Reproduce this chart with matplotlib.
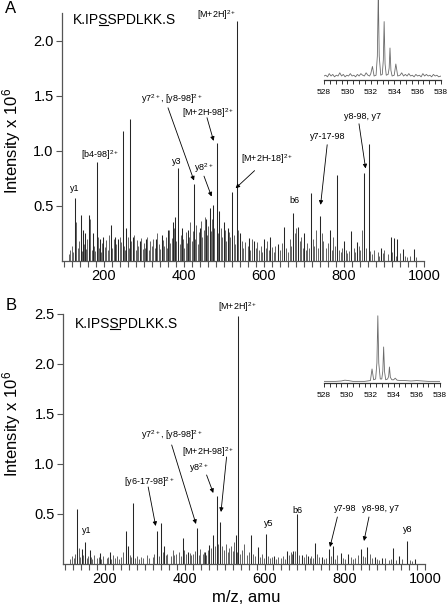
import matplotlib
matplotlib.use('Agg')
import matplotlib.pyplot as plt
import numpy as np
from matplotlib.lines import Line2D
from matplotlib.transforms import IdentityTransform
from matplotlib.ticker import MultipleLocator
from matplotlib.font_manager import FontProperties

plt.rcParams['font.family'] = ['Liberation Sans', 'DejaVu Sans']
plt.rcParams['mathtext.fontset'] = 'custom'
plt.rcParams['mathtext.rm'] = 'Liberation Sans'
plt.rcParams['mathtext.it'] = 'Liberation Sans:italic'
plt.rcParams['mathtext.bf'] = 'Liberation Sans:bold'

SEQ = 'K.IPSSPDLKK.S'

# ---- panel A, main peaks (m/z, intensity x 1e6)
a_mz = [127.5, 141.7, 147, 152, 163, 172, 181.7, 190, 198, 217.5, 228, 236, 247, 256, 265,
        272, 290, 305, 330, 345, 360, 372, 378, 385.8, 395, 410, 425, 440, 455, 465,
        473, 481.7, 488, 500, 510, 520.7, 532.7, 540, 562, 575, 600, 616, 635, 650,
        672.5, 685, 700, 718, 739, 765, 783, 800, 818, 833, 850, 862.5, 892, 917, 925,
        933, 948, 975]
a_int = [0.57, 0.42, 0.28, 0.25, 0.42, 0.25, 0.90, 0.20, 0.22, 0.33, 0.22, 0.20, 1.18, 0.30, 1.29,
         0.22, 0.18, 0.20, 0.20, 0.24, 0.28, 0.35, 0.40, 0.845, 0.30, 0.28, 0.70, 0.30, 0.38, 0.48,
         0.51, 1.07, 0.45, 0.35, 0.30, 0.63, 2.18, 0.25, 0.21, 0.18, 0.20, 0.22, 0.15, 0.31,
         0.44, 0.31, 0.25, 0.62, 0.41, 0.28, 0.78, 0.18, 0.27, 0.17, 0.80, 1.06, 0.12, 0.22, 0.21,
         0.20, 0.11, 0.11]

# ---- panel A, small peaks / noise floor
a_noise_mz = [112, 116, 119, 123, 131, 134, 137, 144, 149, 155,
              158, 166, 169, 175, 178, 185, 188, 193, 196, 202,
              205, 209, 213, 220, 224, 231, 234, 239, 243, 251,
              253, 259, 262, 268, 275, 279, 282, 286, 293, 297,
              300, 303, 308, 312, 316, 319, 323, 327, 333, 337,
              341, 348, 351, 355, 358, 363, 366, 369, 375, 381,
              389, 392, 398, 401, 404, 407, 413, 416, 419, 422,
              428, 431, 434, 437, 443, 446, 449, 452, 458, 461,
              468, 470, 476, 484, 493, 496, 503, 506, 513, 516,
              524, 527, 536, 544, 548, 552, 559, 566, 570, 579,
              583, 588, 592, 596, 604, 608, 612, 620, 624, 628,
              639, 644, 655, 659, 664, 668, 677, 681, 689, 693,
              697, 704, 708, 712, 722, 726, 731, 735, 744, 748,
              756, 760, 769, 773, 778, 788, 792, 796, 804, 808,
              812, 824, 828, 837, 841, 845, 856, 866, 870, 875,
              884, 888, 897, 901, 910, 920, 929, 940, 952, 958,
              964, 980]
a_noise_int = [0.06, 0.10, 0.14, 0.08, 0.35, 0.12, 0.18, 0.09, 0.15, 0.11,
               0.20, 0.38, 0.10, 0.14, 0.09, 0.22, 0.12, 0.08, 0.16, 0.13,
               0.19, 0.10, 0.24, 0.12, 0.20, 0.15, 0.09, 0.22, 0.17, 0.14,
               0.10, 0.22, 0.12, 0.18, 0.24, 0.10, 0.19, 0.14, 0.21, 0.11,
               0.16, 0.12, 0.22, 0.10, 0.18, 0.14, 0.20, 0.12, 0.25, 0.15,
               0.11, 0.19, 0.14, 0.22, 0.12, 0.28, 0.16, 0.21, 0.30, 0.18,
               0.15, 0.24, 0.20, 0.12, 0.26, 0.16, 0.22, 0.35, 0.18, 0.27,
               0.20, 0.33, 0.15, 0.26, 0.36, 0.22, 0.28, 0.40, 0.24, 0.32,
               0.27, 0.38, 0.30, 0.25, 0.30, 0.22, 0.28, 0.18, 0.26, 0.22,
               0.24, 0.15, 0.28, 0.18, 0.12, 0.17, 0.14, 0.10, 0.20, 0.12,
               0.17, 0.10, 0.14, 0.08, 0.12, 0.18, 0.10, 0.13, 0.08, 0.14,
               0.10, 0.16, 0.12, 0.08, 0.20, 0.14, 0.25, 0.30, 0.18, 0.22,
               0.12, 0.10, 0.16, 0.12, 0.20, 0.14, 0.28, 0.12, 0.25, 0.18,
               0.12, 0.16, 0.10, 0.22, 0.14, 0.10, 0.08, 0.12, 0.10, 0.07,
               0.09, 0.12, 0.08, 0.14, 0.10, 0.28, 0.12, 0.09, 0.06, 0.10,
               0.08, 0.05, 0.07, 0.10, 0.06, 0.08, 0.05, 0.07, 0.05, 0.04,
               0.05, 0.04]

# ---- panel B, main peaks
b_mz = [130.8, 141.7, 150.8, 162.5, 187.5, 212.5, 252.5, 258, 270.8, 329, 340, 348,
        394, 408, 429, 450, 461, 471, 479, 487.5, 526.7, 532.7, 565.8, 582.5, 603,
        622.5, 654, 671, 679, 693, 707.5, 724, 743, 760, 770.8, 789, 807.5, 839, 856,
        874, 893, 921, 935, 954, 974]
b_int = [0.55, 0.15, 0.22, 0.14, 0.11, 0.12, 0.33, 0.18, 0.61, 0.33, 0.41, 0.18,
         0.26, 0.12, 0.36, 0.12, 0.19, 0.29, 0.68, 0.42, 0.29, 2.48, 0.29, 0.17, 0.30,
         0.08, 0.13, 0.13, 0.50, 0.09, 0.08, 0.21, 0.07, 0.15, 0.18, 0.11, 0.10, 0.15, 0.17,
         0.07, 0.06, 0.16, 0.08, 0.23, 0.05]

b_noise_mz = [112, 118, 122, 126, 135, 138, 145, 154, 157, 165,
              168, 172, 179, 186, 191, 195, 204, 208, 216, 220,
              225, 230, 236, 241, 246, 262, 266, 276, 281, 286,
              291, 296, 305, 309, 319, 323, 334, 344, 353, 356,
              365, 369, 373, 378, 385, 389, 398, 402, 412, 416,
              420, 424, 434, 437, 444, 447, 453, 457, 465, 475,
              483, 492, 497, 502, 507, 511, 516, 520, 523, 529,
              538, 542, 548, 555, 560, 570, 575, 587, 593, 597,
              607, 613, 617, 628, 633, 640, 646, 650, 660, 664,
              668, 675, 686, 698, 702, 712, 716, 720, 730, 734,
              748, 752, 765, 776, 780, 795, 800, 815, 820, 826,
              833, 845, 850, 862, 868, 880, 886, 900, 910, 915,
              928, 942, 962, 968]
b_noise_int = [0.05, 0.08, 0.06, 0.10, 0.16, 0.07, 0.09, 0.06, 0.08, 0.07,
               0.05, 0.09, 0.06, 0.07, 0.05, 0.08, 0.06, 0.07, 0.05, 0.09,
               0.06, 0.08, 0.05, 0.07, 0.12, 0.09, 0.07, 0.06, 0.08, 0.05,
               0.07, 0.06, 0.09, 0.06, 0.07, 0.10, 0.08, 0.12, 0.09, 0.10,
               0.08, 0.14, 0.09, 0.10, 0.12, 0.08, 0.14, 0.10, 0.11, 0.09,
               0.10, 0.13, 0.09, 0.15, 0.10, 0.12, 0.09, 0.14, 0.16, 0.18,
               0.20, 0.18, 0.14, 0.20, 0.12, 0.16, 0.18, 0.13, 0.22, 0.12,
               0.10, 0.14, 0.20, 0.09, 0.12, 0.10, 0.08, 0.07, 0.10, 0.06,
               0.08, 0.06, 0.07, 0.05, 0.07, 0.06, 0.08, 0.05, 0.09, 0.12,
               0.10, 0.13, 0.09, 0.07, 0.10, 0.06, 0.08, 0.06, 0.10, 0.07,
               0.05, 0.06, 0.08, 0.05, 0.09, 0.06, 0.05, 0.07, 0.05, 0.06,
               0.09, 0.08, 0.07, 0.10, 0.06, 0.05, 0.04, 0.06, 0.04, 0.05,
               0.04, 0.05, 0.04, 0.03]

# ---- insets: isotope envelope of [M+2H]2+ (relative)
ia_mz = [528.0, 528.15, 528.3, 528.45, 528.6, 528.75, 528.9, 529.05, 529.2, 529.35,
         529.5, 529.65, 529.8, 529.95, 530.1, 530.25, 530.4, 530.55, 530.7, 530.85,
         531.0, 531.15, 531.3, 531.45, 531.6, 531.75, 531.9, 532.0, 532.14, 532.28,
         532.45, 532.56, 532.64, 532.72, 532.85, 532.98, 533.07, 533.14, 533.22, 533.32,
         533.48, 533.57, 533.64, 533.72, 533.82, 534.0, 534.14, 534.3, 534.5, 534.64,
         534.8, 534.95, 535.1, 535.25, 535.4, 535.55, 535.7, 535.85, 536.0, 536.15,
         536.3, 536.45, 536.6, 536.75, 536.9, 537.05, 537.2, 537.35, 537.5, 537.65,
         537.8, 538.0]
ia_int = [0.05, 0.06, 0.04, 0.08, 0.05, 0.07, 0.04, 0.06, 0.05, 0.09,
          0.05, 0.07, 0.04, 0.06, 0.05, 0.08, 0.05, 0.06, 0.04, 0.07,
          0.05, 0.08, 0.06, 0.05, 0.09, 0.06, 0.05, 0.08, 0.17, 0.05,
          0.06, 0.30, 1.10, 0.30, 0.06, 0.07, 0.25, 0.73, 0.20, 0.06,
          0.07, 0.15, 0.40, 0.12, 0.05, 0.06, 0.20, 0.05, 0.06, 0.09,
          0.05, 0.07, 0.05, 0.08, 0.05, 0.06, 0.04, 0.07, 0.05, 0.06,
          0.04, 0.08, 0.05, 0.07, 0.05, 0.06, 0.04, 0.07, 0.05, 0.06,
          0.04, 0.05]

ib_mz = [528.0, 528.5, 529.0, 529.5, 529.8, 530.1, 530.5, 531.0, 531.5, 532.0,
         532.14, 532.28, 532.45, 532.56, 532.64, 532.72, 532.85, 532.98, 533.07, 533.14,
         533.22, 533.32, 533.48, 533.57, 533.64, 533.72, 533.85, 534.0, 534.14, 534.3,
         534.6, 535.0, 535.5, 536.0, 536.5, 537.0, 537.5, 538.0]
ib_int = [0.02, 0.02, 0.02, 0.025, 0.035, 0.03, 0.02, 0.02, 0.02, 0.03,
          0.175, 0.04, 0.05, 0.25, 0.84, 0.25, 0.05, 0.05, 0.15, 0.45,
          0.14, 0.04, 0.05, 0.08, 0.20, 0.07, 0.04, 0.04, 0.06, 0.035,
          0.03, 0.03, 0.025, 0.03, 0.025, 0.02, 0.02, 0.02]

inset_ticks = [528, 530, 532, 534, 536, 538]

# ---- annotation text: (label, text x, text y, arrow tail, arrow tip)
a_labels = [
    ('y1', 127.5, 0.66, None, None),
    ('[b4-98]$^{2+}$', 190, 0.96, None, None),
    ('y3', 381.5, 0.90, None, None),
    ('y7$^{2+}$, [y8-98]$^{2+}$', 368.75, 1.47, (360, 1.39), (425, 0.73)),
    ('[M+2H-98]$^{2+}$', 460, 1.345, (457.5, 1.30), (474, 1.09)),
    ('y8$^{2+}$', 450, 0.845, (450, 0.77), (469, 0.585)),
    ('[M+2H]$^{2+}$', 481, 2.23, None, None),
    ('[M+2H-18]$^{2+}$', 607.5, 0.92, (576.5, 0.82), (529, 0.66)),
    ('b6', 675, 0.55, None, None),
    ('y7-17-98', 758.75, 1.13, (758, 1.055), (741.5, 0.51)),
    ('y8-98, y7', 847.5, 1.31, (837.5, 1.245), (854, 0.84)),
]
b_labels = [
    ('y1', 155, 0.33, None, None),
    ('[y6-17-98]$^{2+}$', 310, 0.82, (308, 0.77), (326.75, 0.38)),
    ('y7$^{2+}$, [y8-98]$^{2+}$', 366.25, 1.29, (366.75, 1.19), (427.5, 0.40)),
    ('[M+2H-98]$^{2+}$', 457.5, 1.12, (504, 1.07), (490, 0.52)),
    ('y8$^{2+}$', 433.75, 0.96, (454, 0.89), (470.75, 0.71)),
    ('[M+2H]$^{2+}$', 532, 2.57, None, None),
    ('y5', 610, 0.40, None, None),
    ('b6', 680.75, 0.53, None, None),
    ('y7-98', 800, 0.55, (781, 0.47), (762.5, 0.17)),
    ('y8-98, y7', 890, 0.55, (860, 0.47), (847.5, 0.23)),
    ('y8', 956, 0.34, None, None),
]

SPINE = '#555555'

fig = plt.figure(figsize=(4.48, 6.08), dpi=100)
axA = fig.add_axes([0.1384, 0.5707, 0.808, 0.4079])
axB = fig.add_axes([0.1406, 0.0724, 0.808, 0.4112])


def style_main(ax, ymax, yticks):
    ax.set_xlim(95, 1000)
    ax.set_ylim(0, ymax)
    for s in ['top', 'right']:
        ax.spines[s].set_visible(False)
    for s in ['left', 'bottom']:
        ax.spines[s].set_color(SPINE)
        ax.spines[s].set_linewidth(0.9)
    ax.set_xticks([200, 400, 600, 800, 1000])
    ax.xaxis.set_minor_locator(MultipleLocator(20))
    ax.set_yticks(yticks)
    ax.set_yticklabels(['%.1f' % v for v in yticks])
    ax.tick_params(which='both', direction='out', length=4, width=0.8, color=SPINE,
                   labelsize=10.5, pad=2)


def draw_peaks(ax, mz, inten, noise_mz, noise_int):
    ax.vlines(noise_mz, 0, noise_int, colors='#4a4a4a', linewidth=0.6)
    ax.vlines(mz, 0, inten, colors='#262626', linewidth=0.75)


def draw_labels(ax, labels):
    for txt, x, y, tail, tip in labels:
        ax.text(x, y, txt, fontsize=6.5, ha='center', va='center')
        if tip is not None:
            ax.annotate('', xy=tip, xytext=tail,
                        arrowprops=dict(arrowstyle='-|>', lw=0.6, color='k',
                                        mutation_scale=6, shrinkA=0, shrinkB=0))


def draw_inset(rect, mz, inten):
    ax = fig.add_axes(rect)
    ax.plot(mz, inten, color='#6a6a6a', lw=0.6)
    ax.set_xlim(528, 538)
    ax.set_ylim(0, 1)
    ax.patch.set_alpha(0)
    for s in ['top', 'right', 'left']:
        ax.spines[s].set_visible(False)
    ax.spines['bottom'].set_color('#333333')
    ax.spines['bottom'].set_linewidth(0.9)
    ax.set_yticks([])
    ax.set_xticks(inset_ticks)
    ax.xaxis.set_minor_locator(MultipleLocator(0.5))
    ax.tick_params(which='both', direction='out', length=3, width=0.7, color='#333333',
                   labelsize=6, pad=3.5)
    return ax


def seq_label(ax, x, y, under_idx):
    t = ax.text(x, y, SEQ, fontsize=10, ha='left', va='center')
    fig.canvas.draw()
    r = fig.canvas.get_renderer()
    fp = FontProperties(family=['Liberation Sans', 'DejaVu Sans'], size=10)
    w0, _, _ = r.get_text_width_height_descent(SEQ[:under_idx], fp, ismath=False)
    w1, _, _ = r.get_text_width_height_descent(SEQ[:under_idx + 1], fp, ismath=False)
    bb = t.get_window_extent(r)
    yl = bb.y0 + 1.5
    fig.add_artist(Line2D([bb.x0 + w0, bb.x0 + w1], [yl, yl], color='k', lw=0.8,
                          transform=IdentityTransform()))


draw_peaks(axA, a_mz, a_int, a_noise_mz, a_noise_int)
style_main(axA, 2.25, [0.5, 1.0, 1.5, 2.0])
draw_labels(axA, a_labels)

draw_peaks(axB, b_mz, b_int, b_noise_mz, b_noise_int)
style_main(axB, 2.5, [0.5, 1.0, 1.5, 2.0, 2.5])
draw_labels(axB, b_labels)

draw_inset([0.7232, 0.8684, 0.2612, 0.1316], ia_mz, ia_int)
draw_inset([0.7232, 0.3701, 0.2590, 0.1316], ib_mz, ib_int)

fig.text(0.026, 0.768, 'Intensity x 10$^{6}$', rotation=90, ha='center', va='center', fontsize=12)
fig.text(0.026, 0.302, 'Intensity x 10$^{6}$', rotation=90, ha='center', va='center', fontsize=12)
fig.text(0.549, 0.018, 'm/z, amu', ha='center', va='center', fontsize=12)
fig.text(0.012, 0.998, 'A', ha='left', va='top', fontsize=12)
fig.text(0.012, 0.51, 'B', ha='left', va='top', fontsize=12)

seq_label(axA, 122.5, 2.19, 4)
seq_label(axB, 125, 2.40, 5)

fig.savefig('out.png', dpi=100)
